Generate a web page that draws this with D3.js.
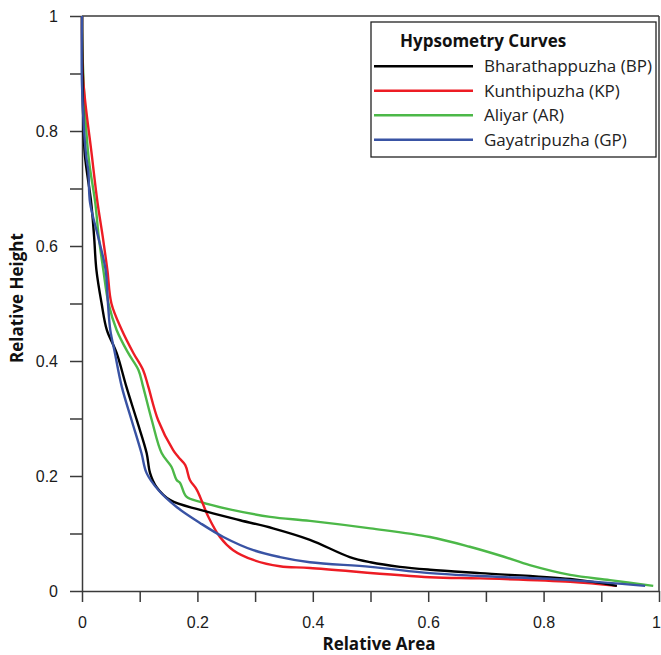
<!DOCTYPE html>
<html><head><meta charset="utf-8">
<script src="https://cdn.jsdelivr.net/npm/d3@7"></script>
<style>body{margin:0;background:#fff}svg{display:block}</style>
</head><body><div id="chart"></div>
<script>
const seriesNames = ["Bharathappuzha (BP)", "Kunthipuzha (KP)", "Aliyar (AR)", "Gayatripuzha (GP)"];
const seriesColors = ["#000000", "#ed1c24", "#4cb848", "#3953a4"];
const bpArea   = [0, 0.002, 0.005, 0.016, 0.021, 0.025, 0.034, 0.043, 0.060, 0.077, 0.095, 0.112, 0.118, 0.129, 0.153, 0.205, 0.274, 0.331, 0.395, 0.464, 0.500, 0.551, 0.603, 0.690, 0.846, 0.927];
const bpHeight = [1, 0.830, 0.758, 0.675, 0.616, 0.558, 0.500, 0.454, 0.414, 0.355, 0.297, 0.240, 0.205, 0.181, 0.158, 0.141, 0.123, 0.109, 0.089, 0.059, 0.050, 0.042, 0.037, 0.031, 0.021, 0.009];
const kpArea   = [0, 0.002, 0.017, 0.027, 0.036, 0.044, 0.051, 0.069, 0.089, 0.106, 0.115, 0.132, 0.158, 0.167, 0.179, 0.187, 0.199, 0.219, 0.239, 0.262, 0.297, 0.343, 0.395, 0.603, 0.690, 0.846, 0.927];
const kpHeight = [1, 0.890, 0.758, 0.675, 0.616, 0.558, 0.500, 0.454, 0.414, 0.384, 0.355, 0.297, 0.245, 0.233, 0.219, 0.193, 0.176, 0.129, 0.094, 0.071, 0.054, 0.043, 0.040, 0.024, 0.022, 0.016, 0.009];
const arArea   = [0, 0.001, 0.011, 0.023, 0.029, 0.037, 0.046, 0.060, 0.080, 0.098, 0.106, 0.121, 0.138, 0.155, 0.164, 0.170, 0.181, 0.205, 0.256, 0.326, 0.395, 0.500, 0.603, 0.672, 0.730, 0.776, 0.846, 0.915, 0.990];
const arHeight = [1, 0.930, 0.758, 0.675, 0.616, 0.558, 0.500, 0.454, 0.414, 0.384, 0.355, 0.297, 0.240, 0.216, 0.193, 0.188, 0.164, 0.155, 0.142, 0.129, 0.122, 0.109, 0.094, 0.077, 0.060, 0.045, 0.028, 0.019, 0.009];
const gpArea   = [0, 0, 0.007, 0.011, 0.014, 0.028, 0.041, 0.045, 0.049, 0.057, 0.069, 0.086, 0.103, 0.112, 0.132, 0.164, 0.205, 0.245, 0.297, 0.343, 0.395, 0.500, 0.603, 0.690, 0.846, 0.976];
const gpHeight = [1, 0.880, 0.758, 0.730, 0.675, 0.616, 0.558, 0.500, 0.454, 0.414, 0.355, 0.297, 0.240, 0.205, 0.176, 0.146, 0.118, 0.094, 0.071, 0.059, 0.050, 0.042, 0.031, 0.026, 0.019, 0.009];
const xTickLabels = ["0", "0.2", "0.4", "0.6", "0.8", "1"];
const yTickLabels = ["0", "0.2", "0.4", "0.6", "0.8", "1"];
const legendTitle = "Hypsometry Curves";
const xTitle = "Relative Area";
const yTitle = "Relative Height";

const series = [
  {name: seriesNames[0], color: seriesColors[0], xs: bpArea, ys: bpHeight},
  {name: seriesNames[1], color: seriesColors[1], xs: kpArea, ys: kpHeight},
  {name: seriesNames[2], color: seriesColors[2], xs: arArea, ys: arHeight},
  {name: seriesNames[3], color: seriesColors[3], xs: gpArea, ys: gpHeight}
];

const W = 661, H = 655;
const svg = d3.select("#chart").append("svg").attr("width", W).attr("height", H);
const x = d3.scaleLinear().domain([0, 1]).range([82, 659]);
const y = d3.scaleLinear().domain([0, 1]).range([591, 16]);
const axisColor = "#3a3a3a";
const tickFont = "'Liberation Sans', Arial, sans-serif";
const titleFont = "'Open Sans', 'Noto Sans', sans-serif";

// frame lines (top and right)
svg.append("line").attr("x1", x(0)).attr("x2", x(1)).attr("y1", y(1)).attr("y2", y(1))
  .attr("stroke", axisColor).attr("stroke-width", 1.5);
svg.append("line").attr("x1", x(1)).attr("x2", x(1)).attr("y1", y(1)).attr("y2", y(0))
  .attr("stroke", axisColor).attr("stroke-width", 1.5);

const minor = d3.range(0, 11).map(i => i / 10);
const xAxis = d3.axisBottom(x).tickValues(minor).tickSize(11).tickSizeOuter(0)
  .tickFormat(d => { const i = Math.round(d * 10); return i % 2 === 0 ? xTickLabels[i / 2] : ""; });
const gx = svg.append("g").attr("transform", `translate(0,${y(0)})`).call(xAxis);
const yAxis = d3.axisLeft(y).tickValues(minor).tickSize(12).tickSizeOuter(0)
  .tickFormat(d => { const i = Math.round(d * 10); return i % 2 === 0 ? yTickLabels[i / 2] : ""; });
const gy = svg.append("g").attr("transform", `translate(${x(0)},0)`).call(yAxis);
[gx, gy].forEach(g => {
  g.selectAll("path.domain").attr("stroke", axisColor).attr("stroke-width", 1.5);
  g.selectAll(".tick line").attr("stroke", axisColor).attr("stroke-width", 1.5);
  g.selectAll(".tick text").attr("font-family", tickFont).attr("font-size", 16).attr("fill", "#1a1a1a");
});
gx.selectAll(".tick text").attr("dy", 0).attr("y", 37)
  .attr("x", d => d === 1 ? -3 : 0);
gy.selectAll(".tick text").attr("x", -24).attr("dy", "0.36em");

// curves
const line = d3.line().x(d => x(d[0])).y(d => y(d[1])).curve(d3.curveCatmullRom.alpha(0.5));
const order = [2, 1, 0, 3];
order.forEach(i => {
  const s = series[i];
  svg.append("path").datum(s.xs.map((v, k) => [v, s.ys[k]]))
    .attr("d", line).attr("fill", "none").attr("stroke", s.color)
    .attr("stroke-width", 2.4).attr("stroke-linejoin", "round");
});

// axis titles
svg.append("text").attr("x", 379).attr("y", 650).attr("text-anchor", "middle")
  .attr("font-family", titleFont).attr("font-weight", "bold").attr("font-size", 17)
  .attr("fill", "#111").text(xTitle);
svg.append("text").attr("transform", "translate(23,298) rotate(-90)").attr("text-anchor", "middle")
  .attr("font-family", titleFont).attr("font-weight", "bold").attr("font-size", 17)
  .attr("fill", "#111").text(yTitle);

// legend
const lg = svg.append("g");
lg.append("rect").attr("x", 371).attr("y", 22).attr("width", 285).attr("height", 135)
  .attr("fill", "#fff").attr("stroke", "#222").attr("stroke-width", 1.3);
lg.append("text").attr("x", 400).attr("y", 47).attr("font-family", titleFont)
  .attr("font-weight", "bold").attr("font-size", 17).attr("fill", "#111").text(legendTitle);
const ly = d3.scaleBand().domain(seriesNames).range([54, 152]);
series.forEach(s => {
  const cy = ly(s.name) + ly.bandwidth() / 2;
  lg.append("line").attr("x1", 374).attr("x2", 473).attr("y1", cy).attr("y2", cy)
    .attr("stroke", s.color).attr("stroke-width", 2.6);
  lg.append("text").attr("x", 484).attr("y", cy).attr("dy", "0.35em")
    .attr("font-family", titleFont).attr("font-size", 17).attr("fill", "#222").text(s.name);
});
</script></body></html>
